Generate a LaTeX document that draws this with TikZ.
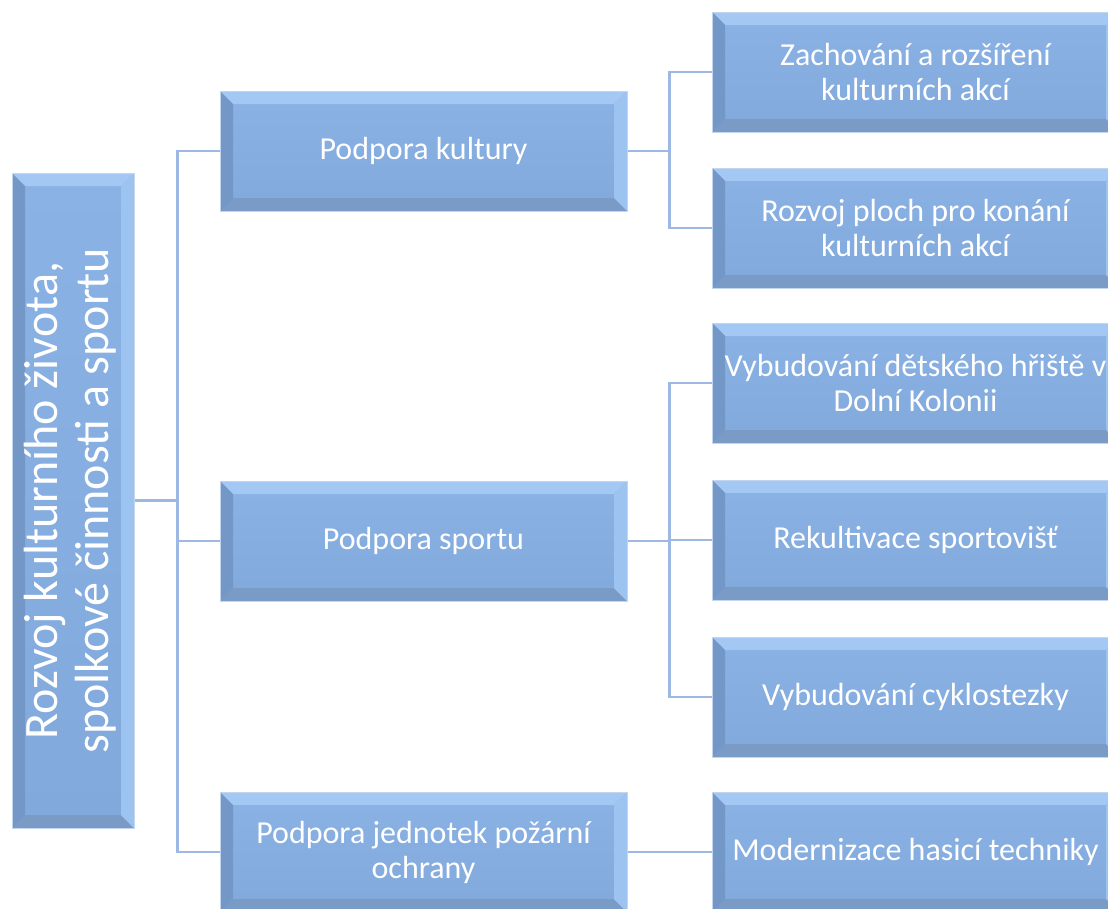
\documentclass[tikz,border=0pt]{standalone}
\usepackage{fontspec}
\setmainfont{Carlito}
\usetikzlibrary{backgrounds}
\definecolor{facetop}{HTML}{8AB2E4}
\definecolor{facebot}{HTML}{82A9DB}
\definecolor{bevtop}{HTML}{A4C8F4}
\definecolor{bevleft}{HTML}{7398C8}
\definecolor{bevbot}{HTML}{7A9BC6}
\definecolor{bevright}{HTML}{9DC3F1}
\definecolor{edgec}{HTML}{C4D6EE}
\definecolor{connc}{HTML}{9DB8E3}
\begin{document}
\begin{tikzpicture}[x=1pt,y=-1pt,
  bevel/.style={rectangle, inner sep=0pt, top color=facetop, bottom color=facebot, draw=edgec, line width=1pt,
    text=white, align=center, font=\fontsize{32}{35}\selectfont,
    minimum width=407pt, minimum height=120pt,
    path picture={
      \fill[bevtop] (path picture bounding box.north west) -- (path picture bounding box.north east)
        -- ([shift={(-13pt,-13pt)}]path picture bounding box.north east)
        -- ([shift={(13pt,-13pt)}]path picture bounding box.north west) -- cycle;
      \fill[bevbot] (path picture bounding box.south west) -- (path picture bounding box.south east)
        -- ([shift={(-13pt,13pt)}]path picture bounding box.south east)
        -- ([shift={(13pt,13pt)}]path picture bounding box.south west) -- cycle;
      \fill[bevleft] (path picture bounding box.north west) -- (path picture bounding box.south west)
        -- ([shift={(13pt,13pt)}]path picture bounding box.south west)
        -- ([shift={(13pt,-13pt)}]path picture bounding box.north west) -- cycle;
      \fill[bevright] (path picture bounding box.north east) -- (path picture bounding box.south east)
        -- ([shift={(-13pt,13pt)}]path picture bounding box.south east)
        -- ([shift={(-13pt,-13pt)}]path picture bounding box.north east) -- cycle;
    }},
  conn/.style={draw=connc, line width=2.5pt}]
\useasboundingbox (0,0) rectangle (1108,908);
\clip (0,0) rectangle (1108,908);

\node[bevel, minimum width=122pt, minimum height=655pt] (root) at (73,500.5)
  {\rotatebox{90}{\fontsize{48}{51}\selectfont\begin{tabular}{@{}c@{}}Rozvoj kulturního života,\\spolkové činnosti a sportu\end{tabular}}};

\node[bevel] (k1) at (423.5,151) {Podpora kultury};
\node[bevel] (k2) at (423.5,541) {Podpora sportu};
\node[bevel] (k3) at (423.5,852) {Podpora jednotek požární\\ochrany};

\node[bevel] (a1) at (915.5,72) {Zachování a rozšíření\\kulturních akcí};
\node[bevel] (a2) at (915.5,228) {Rozvoj ploch pro konání\\kulturních akcí};
\node[bevel] (b1) at (915.5,383) {Vybudování dětského hřiště v\\Dolní Kolonii};
\node[bevel] (b2) at (915.5,540) {Rekultivace sportovišť};
\node[bevel] (b3) at (915.5,697) {Vybudování cyklostezky};
\node[bevel] (c1) at (915.5,852) {Modernizace hasicí techniky};

\begin{scope}[on background layer]
\draw[conn] (root.east) -- ++(43pt,0) coordinate (j0);
\draw[conn] (k1.west) -| (j0);
\draw[conn] (k3.west) -| (j0);
\draw[conn] (k2.west) -- (k2.west -| j0);

\draw[conn] (k1.east) -- ++(42pt,0) coordinate (j1);
\draw[conn] (a1.west) -| (j1);
\draw[conn] (a2.west) -| (j1);

\draw[conn] (k2.east) -- ++(42pt,0) coordinate (j2);
\draw[conn] (b1.west) -| (j2);
\draw[conn] (b3.west) -| (j2);
\draw[conn] (b2.west) -- (b2.west -| j2);

\draw[conn] (k3.east) -- (c1.west);
\end{scope}
\end{tikzpicture}
\end{document}
